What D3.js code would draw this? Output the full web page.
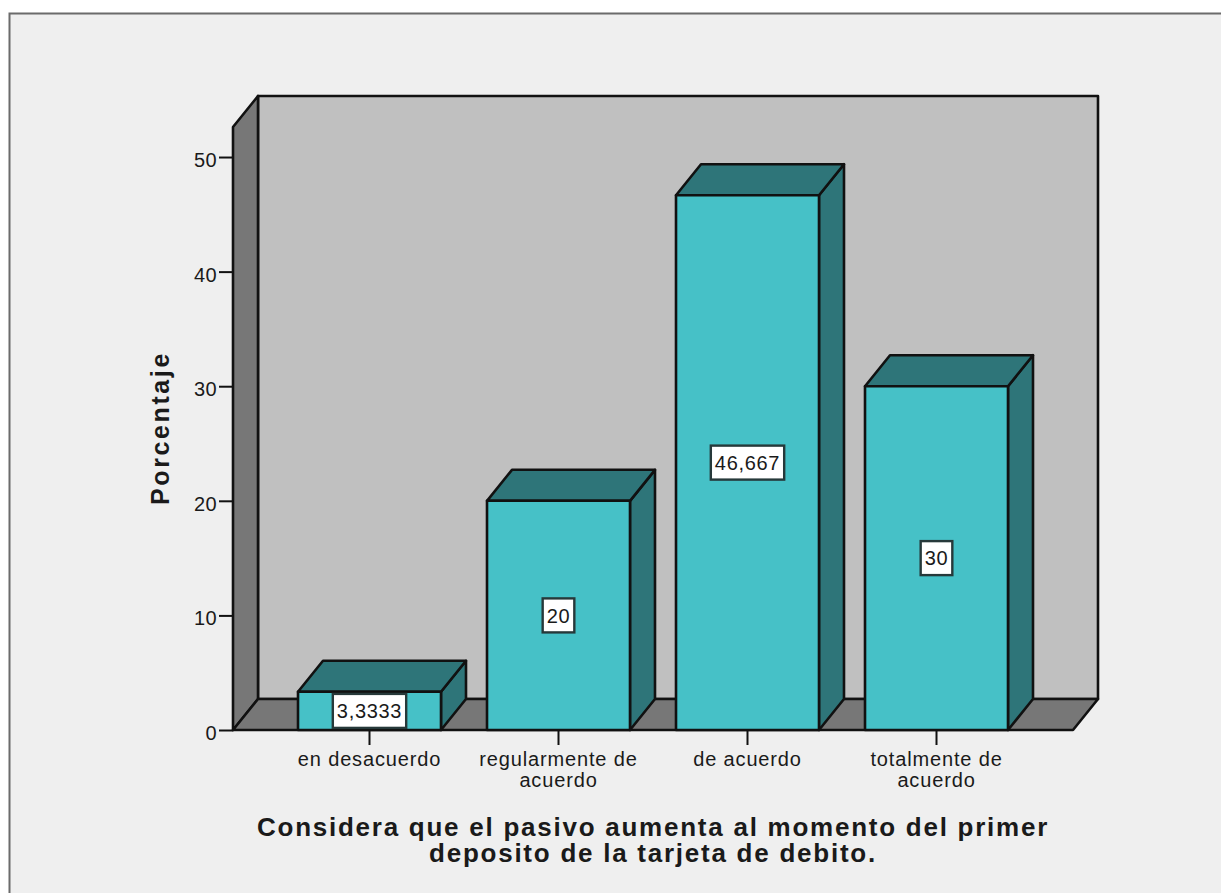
<!DOCTYPE html>
<html lang="es">
<head>
<meta charset="utf-8">
<title>Porcentaje</title>
<script src="https://cdnjs.cloudflare.com/ajax/libs/d3/7.8.5/d3.min.js"></script>
<style>
  html, body { margin: 0; padding: 0; background: #fff; overflow: hidden; }
  svg { display: block; }
  text { font-family: "Liberation Sans", Arial, sans-serif; fill: #1a1a1a; }
</style>
</head>
<body>
<svg id="chart" width="1221" height="893"></svg>
<script>
// Survey responses, percentage of respondents
const categories = ["en desacuerdo", "regularmente de acuerdo", "de acuerdo", "totalmente de acuerdo"];
const categoryLines = [["en desacuerdo"], ["regularmente de", "acuerdo"], ["de acuerdo"], ["totalmente de", "acuerdo"]];
const percentages = [3.3333, 20, 46.667, 30];
const percentageLabels = ["3,3333", "20", "46,667", "30"];
const yTicks = [0, 10, 20, 30, 40, 50];
const yTitle = "Porcentaje";
const xTitleLines = ["Considera que el pasivo aumenta al momento del primer", "deposito de la tarjeta de debito."];

const svg = d3.select("#chart");
const ink = "#111";
const colors = { panel: "#efefef", wall: "#c0c0c0", floor: "#777777", face: "#46c1c7", shade: "#2e7579" };
const edge = 2.6;

// Oblique offset of the back plane relative to the front plane
const depth = { x: 25, y: -31 };
const y = d3.scaleLinear().domain([0, 52.62]).range([730, 127]);
const x = d3.scaleBand().domain(categories).range([275, 1031]).paddingInner(0.2434).paddingOuter(0.1217);
const frontLeft = 233, frontRight = 1073;
const y0 = y(0), yMax = y.range()[1];

const poly = (parent, pts, fill) => parent.append("path")
  .attr("d", d3.line()(pts) + "Z")
  .attr("fill", fill).attr("stroke", ink).attr("stroke-width", edge).attr("stroke-linejoin", "round");

// Outer panel: only its top and left edges fall inside the window
svg.append("rect").attr("x", 9.5).attr("y", 13.5).attr("width", 1240).attr("height", 900)
  .attr("fill", colors.panel).attr("stroke", "#6b6b6b").attr("stroke-width", 2);

// Back wall, side wall and floor
poly(svg, [[frontLeft + depth.x, yMax + depth.y], [frontRight + depth.x, yMax + depth.y], [frontRight + depth.x, y0 + depth.y], [frontLeft + depth.x, y0 + depth.y]], colors.wall);
poly(svg, [[frontLeft, yMax], [frontLeft + depth.x, yMax + depth.y], [frontLeft + depth.x, y0 + depth.y], [frontLeft, y0]], colors.floor);
poly(svg, [[frontLeft, y0], [frontLeft + depth.x, y0 + depth.y], [frontRight + depth.x, y0 + depth.y], [frontRight, y0]], colors.floor);

// Bars: right side, top and front face
const bars = svg.append("g").selectAll("g").data(categories).join("g");
bars.each(function (c, i) {
  const g = d3.select(this);
  const l = x(c), r = l + x.bandwidth(), t = y(percentages[i]);
  poly(g, [[r, t], [r + depth.x, t + depth.y], [r + depth.x, y0 + depth.y], [r, y0]], colors.shade);
  poly(g, [[l, t], [l + depth.x, t + depth.y], [r + depth.x, t + depth.y], [r, t]], colors.shade);
  poly(g, [[l, t], [r, t], [r, y0], [l, y0]], colors.face);
});

// Y axis
const yAxis = svg.append("g").attr("transform", `translate(${frontLeft},0)`)
  .call(d3.axisLeft(y).tickValues(yTicks).tickSize(14).tickPadding(2).tickFormat(d3.format("d")));
yAxis.select(".domain").remove();
yAxis.selectAll("line").attr("stroke", ink).attr("stroke-width", 2);
yAxis.selectAll("text").attr("font-size", 20).attr("dy", null).attr("y", 9.5).attr("letter-spacing", 0.4);

// X axis with wrapped category labels
const xAxis = svg.append("g").attr("transform", `translate(0,${y0})`)
  .call(d3.axisBottom(x).tickSize(15).tickFormat(""));
xAxis.select(".domain").remove();
xAxis.selectAll("line").attr("stroke", ink).attr("stroke-width", 2);
xAxis.selectAll(".tick text").each(function (c, i) {
  const t = d3.select(this).attr("font-size", 20).attr("letter-spacing", 0.85).attr("y", 0).attr("dy", null);
  categoryLines[i].forEach((line, k) => t.append("tspan").attr("x", 0).attr("y", 36 + k * 21).text(line));
});

// Value labels centred on each bar's front face
bars.each(function (c, i) {
  const g = d3.select(this);
  const cx = x(c) + x.bandwidth() / 2;
  const cy = (y(percentages[i]) + y0) / 2;
  const box = g.append("rect").attr("fill", "#fff").attr("stroke", "#26393a").attr("stroke-width", 2.4);
  const label = g.append("text").attr("x", cx).attr("y", cy).attr("dy", "0.36em")
    .attr("text-anchor", "middle").attr("font-size", 20).attr("letter-spacing", 0.7).text(percentageLabels[i]);
  const w = label.node().getComputedTextLength() + 8, h = 34;
  box.attr("x", cx - w / 2).attr("y", cy - h / 2).attr("width", w).attr("height", h);
});

// Axis titles
svg.append("text").attr("transform", "translate(169,428) rotate(-90)")
  .attr("text-anchor", "middle").attr("font-size", 25).attr("font-weight", "bold").attr("letter-spacing", 2.6).text(yTitle);
svg.append("text").attr("text-anchor", "middle").attr("font-size", 26).attr("font-weight", "bold").attr("letter-spacing", 1.75)
  .selectAll("tspan").data(xTitleLines).join("tspan")
  .attr("x", 653).attr("y", (d, i) => 836 + i * 26).text(d => d);
</script>
</body>
</html>
